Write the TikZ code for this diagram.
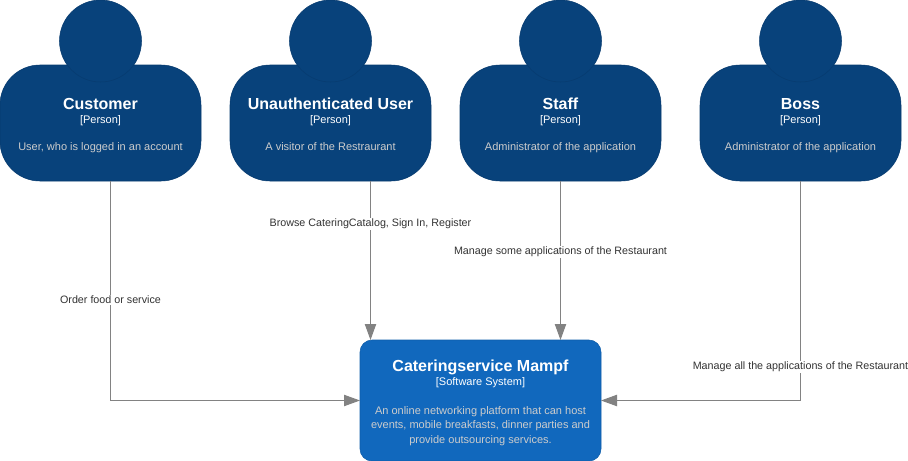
\documentclass[tikz,border=0pt]{standalone}
\usepackage{fontspec}
\setmainfont{Liberation Sans}
\usepackage{xcolor}
\usetikzlibrary{arrows.meta, positioning}
\definecolor{persfill}{HTML}{08427B}
\definecolor{persline}{HTML}{073B6F}
\definecolor{sysfill}{HTML}{1168BD}
\definecolor{sysline}{HTML}{0F5EAA}
\definecolor{relgray}{HTML}{828282}
\definecolor{desctext}{HTML}{CCCCCC}
\definecolor{labeltext}{HTML}{333333}
\newcommand{\boxdesc}[1]{\fontsize{8.25}{11}\selectfont\color{desctext}\strut #1}
\newcommand{\boxlabel}[3]{\fontsize{12}{14.5}\selectfont\bfseries\rule[-3pt]{0pt}{17pt}#1\\[-1.5pt]
  \fontsize{8.25}{10}\selectfont\mdseries #2\\[#3]}
\tikzset{
  personbody/.style={rectangle, draw=persline, fill=persfill, rounded corners=30pt,
                minimum width=150.75pt, minimum height=87pt, inner sep=0pt, outer sep=0pt,
                text=white, align=center},
  personhead/.style={circle, draw=persline, fill=persfill, minimum size=61.5pt, inner sep=0pt, outer sep=0pt},
  systembox/.style={rectangle, draw=sysline, fill=sysfill, rounded corners=9pt,
                minimum width=180.75pt, minimum height=90.75pt, inner sep=0pt, outer sep=0pt,
                text=white, align=center},
  rel/.style={-{Triangle[length=12pt, width=8.5pt]}, draw=relgray, line width=0.75pt},
  rellabel/.style={fill=white, inner sep=1pt, text=labeltext,
                font=\fontsize{8.05}{10}\selectfont}
}

\begin{document}
\begin{tikzpicture}[x=0.75pt, y=-0.75pt]
  \useasboundingbox (0,0) rectangle (908,461);

  % Persons
  \node[personbody] (customer) at (100.5,123) {\boxlabel{Customer}{[Person]}{8.75pt}\boxdesc{User, who is logged in an account}};
  \node[personbody, right=21.75pt of customer] (visitor) {\boxlabel{Unauthenticated User}{[Person]}{8.75pt}\boxdesc{A visitor of the Restraurant}};
  \node[personbody, right=21.75pt of visitor] (staff) {\boxlabel{Staff}{[Person]}{8.75pt}\boxdesc{Administrator of the application}};
  \node[personbody, right=29.25pt of staff] (boss) {\boxlabel{Boss}{[Person]}{8.75pt}\boxdesc{Administrator of the application}};

  % Heads
  \node[personhead, above=-12.75pt of customer] (customerhead) {};
  \node[personhead, above=-12.75pt of visitor] (visitorhead) {};
  \node[personhead, above=-12.75pt of staff] (staffhead) {};
  \node[personhead, above=-12.75pt of boss] (bosshead) {};

  % System
  \node[systembox] (mampf) at (480.5,400.5) {\boxlabel{Cateringservice Mampf}{[Software System]}{9.5pt}\boxdesc{An online networking platform that can host}\\[-1.1pt]
    \boxdesc{events, mobile breakfasts, dinner parties and}\\[-1.1pt]
    \boxdesc{provide outsourcing services.}};

  % Arrows persons -> system
  \draw[rel] ([xshift=7.5pt]customer.south) |- (mampf.west)
    node[rellabel, pos=0.271] (customerrel) {Order food or service};
  \draw[rel] ([xshift=30pt]visitor.south) -- ([xshift=-82.5pt]mampf.north)
    node[rellabel, pos=0.271] (visitorrel) {Browse CateringCatalog, Sign In, Register};
  \draw[rel] (staff.south) -- (staff.south |- mampf.north)
    node[rellabel, pos=0.447] (staffrel) {Manage some applications of the Restaurant};
  \draw[rel] (boss.south) |- (mampf.east)
    node[rellabel, pos=0.424] (bossrel) {Manage all the applications of the Restaurant};
\end{tikzpicture}
\end{document}
